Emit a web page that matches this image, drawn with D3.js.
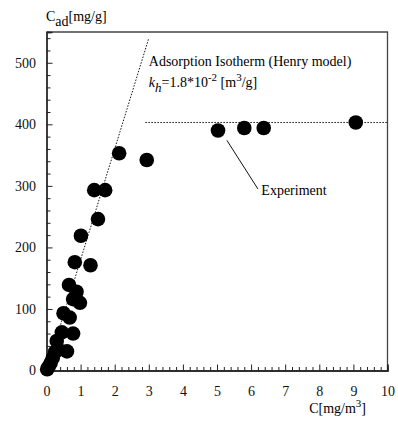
<!DOCTYPE html>
<html>
<head>
<meta charset="utf-8">
<script src="https://cdn.jsdelivr.net/npm/d3@7"></script>
<style>
  body { margin: 0; background: #fff; }
  text { font-family: "Liberation Serif", "Times New Roman", Times, "DejaVu Serif", serif; }
</style>
</head>
<body>
<div id="chart"></div>
<script>
// measured points: concentration C [mg/m3] vs adsorbed amount C_ad [mg/g]
const concC = [0.02, 0.06, 0.12, 0.18, 0.25, 0.35, 0.30, 0.45, 0.78, 0.60, 0.50, 0.68,
  0.78, 0.88, 0.98, 0.66, 0.83, 1.29, 1.01, 1.51, 1.40, 1.72, 2.13, 2.94,
  5.03, 5.80, 6.37, 9.07];
const adsorbed = [2, 6, 12, 20, 30, 34, 48, 62, 60, 31, 93, 86,
  116, 128, 110, 139, 176, 171, 219, 246, 293, 293, 353, 342,
  390, 394, 394, 403];

const xTickLabels = [0, 1, 2, 3, 4, 5, 6, 7, 8, 9, 10];
const yTickLabels = [0, 100, 200, 300, 400, 500];

// Henry model line and saturation level
const henryX = [0, 3.0];
const henryY = [0, 540];
const plateauX = [2.9, 10];
const plateauY = [403, 403];

const FONT = "'Liberation Serif', 'Times New Roman', Times, 'DejaVu Serif', serif";

const W = 398, H = 421;
const margin = { top: 32, right: 10.5, bottom: 50.5, left: 46.5 };
const width = W - margin.left - margin.right;
const height = H - margin.top - margin.bottom;

const svg = d3.select("#chart").append("svg")
  .attr("width", W)
  .attr("height", H)
  .attr("font-family", FONT);

const g = svg.append("g")
  .attr("transform", `translate(${margin.left},${margin.top})`);

const x = d3.scaleLinear().domain([0, 10]).range([0, width]);
const y = d3.scaleLinear().domain([0, 550]).range([height, 0]);

// frame top / right
g.append("path")
  .attr("d", `M0,0H${width}V${height}`)
  .attr("fill", "none")
  .attr("stroke", "#444")
  .attr("stroke-width", 1.3);

// x axis with inward ticks
const xMinor = d3.range(0, 10.001, 0.2).filter(v => Math.abs(v - Math.round(v)) > 1e-6);
const xAxis = g.append("g").attr("transform", `translate(0,${height})`);
xAxis.call(d3.axisBottom(x).tickValues(xMinor).tickSize(-3.5).tickFormat(""));
xAxis.append("g").call(d3.axisBottom(x).tickValues(xTickLabels).tickSize(-6).tickPadding(16).tickFormat(d3.format("d")));

// y axis with inward ticks
const yMinor = d3.range(0, 541, 20).filter(v => v % 100 !== 0);
const yAxis = g.append("g");
yAxis.call(d3.axisLeft(y).tickValues(yMinor).tickSize(-4).tickFormat(""));
yAxis.append("g").call(d3.axisLeft(y).tickValues(yTickLabels).tickSize(-6).tickPadding(16).tickFormat(d3.format("d")));

svg.selectAll("g[font-family]").attr("font-family", FONT).attr("font-size", 14);
svg.selectAll(".domain").attr("stroke", "#222").attr("stroke-width", 1.3);
svg.selectAll(".tick line").attr("stroke", "#222").attr("stroke-width", 1);
svg.selectAll(".tick text").attr("fill", "#111");
yAxis.selectAll(".tick text").attr("x", -10.5);
xAxis.selectAll(".tick text").attr("y", 16);

// dotted model lines
const line = d3.line().x(d => x(d[0])).y(d => y(d[1]));
g.append("path")
  .datum(d3.zip(henryX, henryY))
  .attr("d", line)
  .attr("fill", "none")
  .attr("stroke", "#111")
  .attr("stroke-width", 1)
  .attr("stroke-dasharray", "1.5,1.5");
g.append("path")
  .datum(d3.zip(plateauX, plateauY))
  .attr("d", line)
  .attr("fill", "none")
  .attr("stroke", "#111")
  .attr("stroke-width", 1)
  .attr("stroke-dasharray", "1.5,1.5");

// experimental points
g.selectAll(".pt")
  .data(d3.zip(concC, adsorbed))
  .enter().append("circle")
  .attr("class", "pt")
  .attr("cx", d => x(d[0]))
  .attr("cy", d => y(d[1]))
  .attr("r", 7.3)
  .attr("fill", "#000");

// annotations
g.append("text")
  .attr("x", x(3.0))
  .attr("y", y(494))
  .attr("font-size", 14)
  .text("Adsorption Isotherm (Henry model)");

const t2 = g.append("text")
  .attr("x", x(3.0))
  .attr("y", y(461))
  .attr("font-size", 14);
t2.append("tspan").attr("font-style", "italic").text("k");
t2.append("tspan").attr("dy", 5).attr("font-style", "italic").attr("font-size", 13).text("h");
t2.append("tspan").attr("dy", -5).text("=1.8*10");
t2.append("tspan").attr("dy", -6).attr("font-size", 11).text("-2");
t2.append("tspan").attr("dy", 6).text(" [m");
t2.append("tspan").attr("dy", -6).attr("font-size", 11).text("3");
t2.append("tspan").attr("dy", 6).text("/g]");

g.append("line")
  .attr("x1", x(5.29)).attr("y1", y(374))
  .attr("x2", x(6.2)).attr("y2", y(295))
  .attr("stroke", "#111")
  .attr("stroke-width", 1);

g.append("text")
  .attr("x", x(6.3))
  .attr("y", y(285))
  .attr("font-size", 14)
  .text("Experiment");

// axis titles
const yl = svg.append("text")
  .attr("x", 46)
  .attr("y", 20.5)
  .attr("font-size", 14);
yl.append("tspan").text("C");
yl.append("tspan").attr("dy", 5).text("ad");
yl.append("tspan").attr("dy", -5).text("[mg/g]");

const xl = svg.append("text")
  .attr("x", 366)
  .attr("y", 413)
  .attr("text-anchor", "end")
  .attr("font-size", 14);
xl.append("tspan").text("C[mg/m");
xl.append("tspan").attr("dy", -6).attr("font-size", 11).text("3");
xl.append("tspan").attr("dy", 6).text("]");
</script>
</body>
</html>
